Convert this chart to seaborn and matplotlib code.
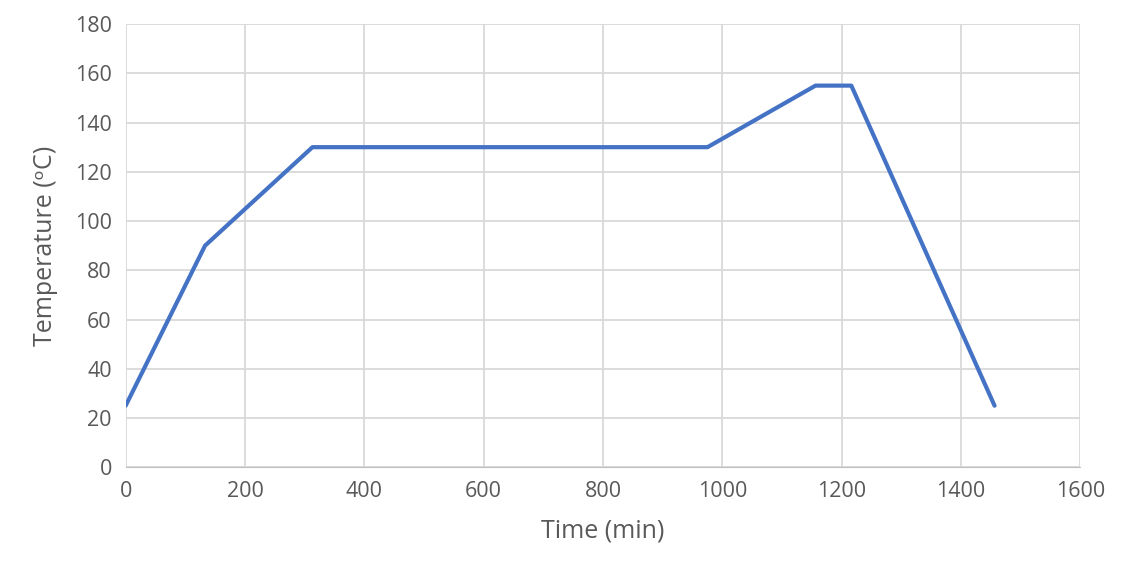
import matplotlib
matplotlib.use("Agg")
from matplotlib import pyplot as plt
import pandas as pd
import seaborn as sns

# temperature profile
time_min = [0, 133, 313, 975, 1156, 1216, 1456]
temp_c = [25, 90, 130, 130, 155, 155, 25]

sns.set_style("white")
plt.rcParams['font.family'] = ['Open Sans', 'DejaVu Sans']

df = pd.DataFrame({"time": time_min, "temp": temp_c})

fig = plt.figure(figsize=(11.22, 5.87), dpi=100)
ax = fig.add_axes([0.112, 0.204, 0.851, 0.755])
sns.lineplot(ax=ax, data=df, x="time", y="temp", color="#4472C4", linewidth=3, sort=False)

ax.set_xlim(0, 1600)
ax.set_ylim(0, 180)
ax.set_xticks(range(0, 1601, 200))
ax.set_yticks(range(0, 181, 20))
ax.grid(True, color="#d9d9d9", linewidth=1.3)
ax.set_axisbelow(True)
for s in ["top", "right", "left"]:
    ax.spines[s].set_visible(False)
ax.spines["bottom"].set_color("#bfbfbf")
ax.tick_params(colors="#595959", labelsize=15.5, length=0, pad=10)
ax.set_xlabel("Time (min)", fontsize=18, color="#595959", labelpad=12)
ax.set_ylabel("Temperature (ᵒC)", fontsize=18, color="#595959", labelpad=12)

fig.savefig("out.png", dpi=100)
